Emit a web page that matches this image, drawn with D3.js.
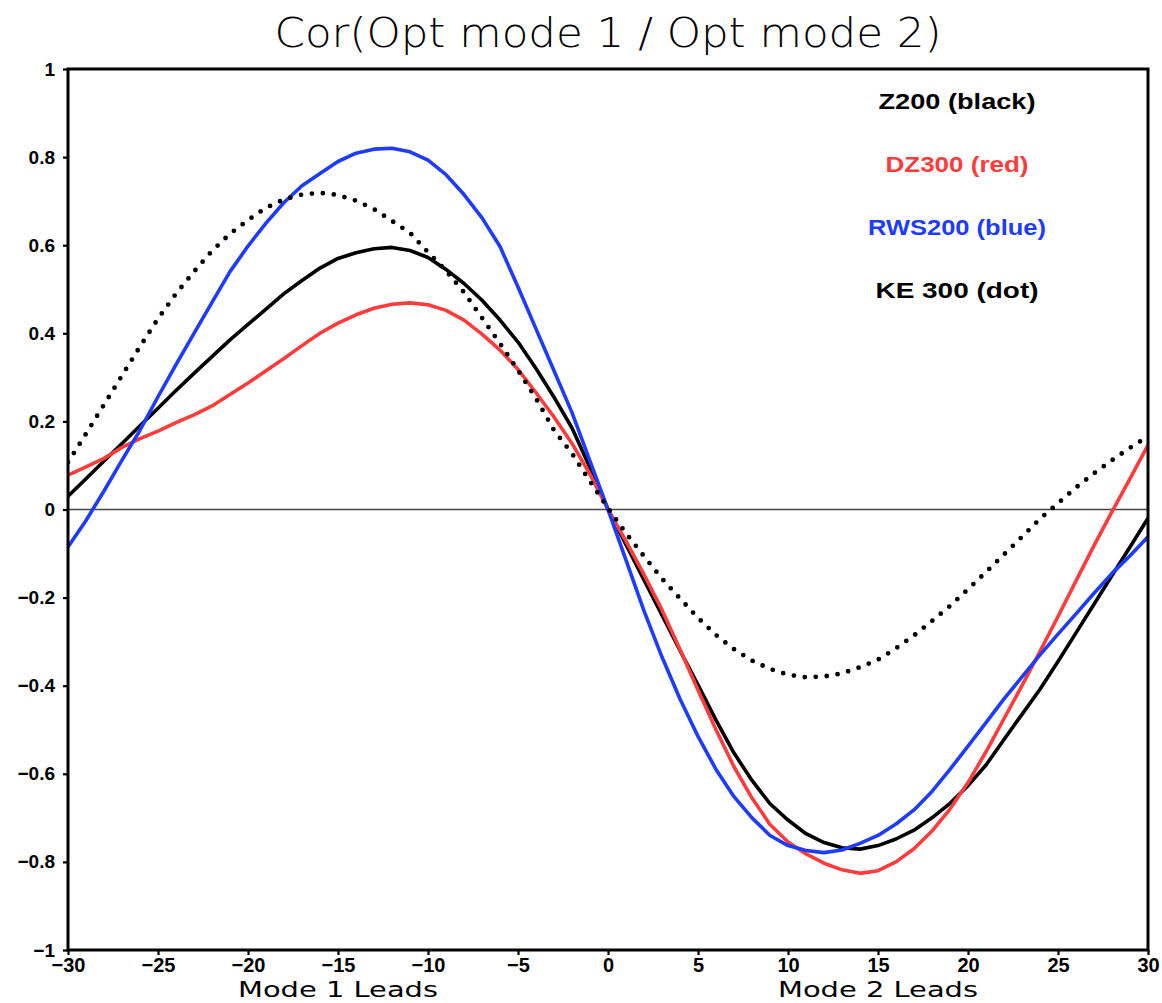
<!DOCTYPE html>
<html>
<head>
<meta charset="utf-8">
<script src="https://cdn.jsdelivr.net/npm/d3@7"></script>
<style>
  html, body { margin: 0; padding: 0; background: #fff; }
  svg { display: block; }
</style>
</head>
<body>
<svg id="chart" width="1162" height="1003"></svg>
<script>
// Lag axis (days): negative = mode 1 leads, positive = mode 2 leads
const lags = d3.range(-30, 31);

// Lagged correlation, one value per lag from -30 to 30
const z200 = [
  0.030, 0.070, 0.110, 0.150, 0.190, 0.230, 0.270, 0.309, 0.347, 0.385,
  0.420, 0.455, 0.490, 0.520, 0.548, 0.570, 0.583, 0.592, 0.595, 0.588,
  0.572, 0.545, 0.513, 0.475, 0.430, 0.380, 0.320, 0.255, 0.185, 0.095,
  0.000, -0.080, -0.160, -0.240, -0.320, -0.398, -0.478, -0.553, -0.615, -0.668,
  -0.705, -0.736, -0.756, -0.768, -0.771, -0.763, -0.748, -0.728, -0.700, -0.667,
  -0.627, -0.580, -0.522, -0.465, -0.408, -0.345, -0.280, -0.215, -0.150, -0.085,
  -0.020
];
const dz300 = [
  0.078, 0.097, 0.116, 0.141, 0.161, 0.178, 0.197, 0.215, 0.235, 0.261,
  0.287, 0.315, 0.343, 0.372, 0.400, 0.423, 0.442, 0.457, 0.466, 0.469,
  0.465, 0.452, 0.430, 0.398, 0.362, 0.318, 0.265, 0.210, 0.150, 0.080,
  0.000, -0.072, -0.148, -0.228, -0.318, -0.410, -0.500, -0.584, -0.655, -0.715,
  -0.755, -0.782, -0.803, -0.818, -0.826, -0.820, -0.800, -0.770, -0.730, -0.680,
  -0.620, -0.550, -0.475, -0.400, -0.322, -0.243, -0.162, -0.082, -0.005, 0.070,
  0.146
];
const rws200 = [
  -0.085, -0.025, 0.042, 0.112, 0.180, 0.256, 0.329, 0.400, 0.470, 0.540,
  0.598, 0.650, 0.697, 0.735, 0.763, 0.790, 0.809, 0.818, 0.820, 0.812,
  0.793, 0.760, 0.715, 0.662, 0.597, 0.505, 0.410, 0.315, 0.220, 0.110,
  0.000, -0.115, -0.230, -0.335, -0.430, -0.515, -0.590, -0.652, -0.700, -0.740,
  -0.763, -0.774, -0.779, -0.773, -0.758, -0.740, -0.714, -0.682, -0.640, -0.590,
  -0.537, -0.484, -0.430, -0.380, -0.330, -0.283, -0.237, -0.190, -0.145, -0.105,
  -0.062
];
const ke300 = [
  0.107, 0.172, 0.238, 0.304, 0.370, 0.433, 0.490, 0.540, 0.587, 0.626,
  0.657, 0.685, 0.704, 0.715, 0.719, 0.714, 0.701, 0.682, 0.655, 0.628,
  0.584, 0.542, 0.493, 0.435, 0.377, 0.316, 0.252, 0.180, 0.127, 0.064,
  0.003, -0.054, -0.106, -0.157, -0.202, -0.246, -0.285, -0.317, -0.343, -0.362,
  -0.375, -0.381, -0.379, -0.372, -0.358, -0.341, -0.315, -0.286, -0.253, -0.219,
  -0.181, -0.142, -0.102, -0.062, -0.021, 0.014, 0.050, 0.082, 0.112, 0.140,
  0.166
];

const xTicks = d3.range(-30, 31, 5);
const yTicks = d3.range(-1, 1.0001, 0.2).map(v => +v.toFixed(1));
const legendLabels = ["Z200 (black)", "DZ300 (red)", "RWS200 (blue)", "KE 300 (dot)"];
const legendColors = ["#000000", "#ff3c3c", "#1e3cff", "#000000"];
const legendWidths = [157, 143, 178, 163];
const titleText = "Cor(Opt mode 1 / Opt mode 2)";
const xSideLabels = [{ text: "Mode 1 Leads", at: -15 }, { text: "Mode 2 Leads", at: 15 }];

const series = [
  { values: z200, color: "#000000", dash: null },
  { values: dz300, color: "#ff3c3c", dash: null },
  { values: rws200, color: "#1e3cff", dash: null },
  { values: ke300, color: "#000000", dash: "0 11" }
];

const margin = { left: 68, right: 14, top: 69, bottom: 53 };
const W = 1162, H = 1003;
const svg = d3.select("#chart");

const x = d3.scaleLinear().domain([-30, 30]).range([margin.left, W - margin.right]);
const y = d3.scaleLinear().domain([-1, 1]).range([H - margin.bottom, margin.top]);

const tickFont = "'Liberation Sans', Arial, sans-serif";

// Title
svg.append("text")
  .attr("x", (x(-30) + x(30)) / 2)
  .attr("y", 47)
  .attr("text-anchor", "middle")
  .attr("font-family", "'DejaVu Sans', sans-serif")
  .attr("font-weight", 300)
  .attr("font-size", 40)
  .attr("textLength", 667)
  .attr("lengthAdjust", "spacingAndGlyphs")
  .text(titleText);

// Zero reference line
svg.append("line")
  .attr("x1", x(-30)).attr("x2", x(30))
  .attr("y1", y(0)).attr("y2", y(0))
  .attr("stroke", "#444").attr("stroke-width", 1.6);

// Clip lines to plotting area
svg.append("clipPath").attr("id", "plot-clip")
  .append("rect")
  .attr("x", x(-30)).attr("y", y(1))
  .attr("width", x(30) - x(-30)).attr("height", y(-1) - y(1));

const line = d3.line()
  .x((d, i) => x(lags[i]))
  .y(d => y(d))
  .curve(d3.curveLinear);

const plot = svg.append("g").attr("clip-path", "url(#plot-clip)");
series.forEach(s => {
  plot.append("path")
    .datum(s.values)
    .attr("d", line)
    .attr("fill", "none")
    .attr("stroke", s.color)
    .attr("stroke-width", s.dash ? 4.8 : 3.6)
    .attr("stroke-linecap", "round")
    .attr("stroke-linejoin", "round")
    .attr("stroke-dasharray", s.dash);
});

// Axes
const yAxis = d3.axisLeft(y).tickValues(yTicks).tickSize(5).tickPadding(8)
  .tickFormat(d => d3.format(".1f")(d).replace("-", "\u2212").replace(/\.0$/, ""));
const gy = svg.append("g").attr("transform", `translate(${x(-30)},0)`).call(yAxis);
gy.select(".domain").remove();
gy.selectAll(".tick line").attr("stroke", "#000").attr("stroke-width", 2.2);
gy.selectAll(".tick text")
  .attr("font-family", tickFont).attr("font-weight", "bold").attr("font-size", 19)
  .attr("fill", "#000");

const xAxis = d3.axisBottom(x).tickValues(xTicks).tickSize(5).tickPadding(3)
  .tickFormat(d => String(d).replace("-", "\u2212"));
const gx = svg.append("g").attr("transform", `translate(0,${y(-1)})`).call(xAxis);
gx.select(".domain").remove();
gx.selectAll(".tick line").attr("stroke", "#000").attr("stroke-width", 2.2);
gx.selectAll(".tick text")
  .attr("font-family", tickFont).attr("font-weight", "bold").attr("font-size", 20)
  .attr("fill", "#000");

// Frame
svg.append("rect")
  .attr("x", x(-30)).attr("y", y(1))
  .attr("width", x(30) - x(-30)).attr("height", y(-1) - y(1))
  .attr("fill", "none").attr("stroke", "#000").attr("stroke-width", 3);

// Lead labels under the lag axis
svg.selectAll("text.side")
  .data(xSideLabels)
  .join("text")
  .attr("class", "side")
  .attr("x", d => x(d.at))
  .attr("y", 997)
  .attr("text-anchor", "middle")
  .attr("font-family", "'DejaVu Sans', sans-serif")
  .attr("font-size", 21)
  .attr("textLength", 200)
  .attr("lengthAdjust", "spacingAndGlyphs")
  .text(d => d.text);

// Legend
svg.selectAll("text.legend")
  .data(legendLabels)
  .join("text")
  .attr("class", "legend")
  .attr("x", 957)
  .attr("y", (d, i) => 109 + i * 63)
  .attr("text-anchor", "middle")
  .attr("font-family", tickFont)
  .attr("font-weight", "bold")
  .attr("font-size", 22)
  .attr("fill", (d, i) => legendColors[i])
  .attr("textLength", (d, i) => legendWidths[i])
  .attr("lengthAdjust", "spacingAndGlyphs")
  .text(d => d);
</script>
</body>
</html>
